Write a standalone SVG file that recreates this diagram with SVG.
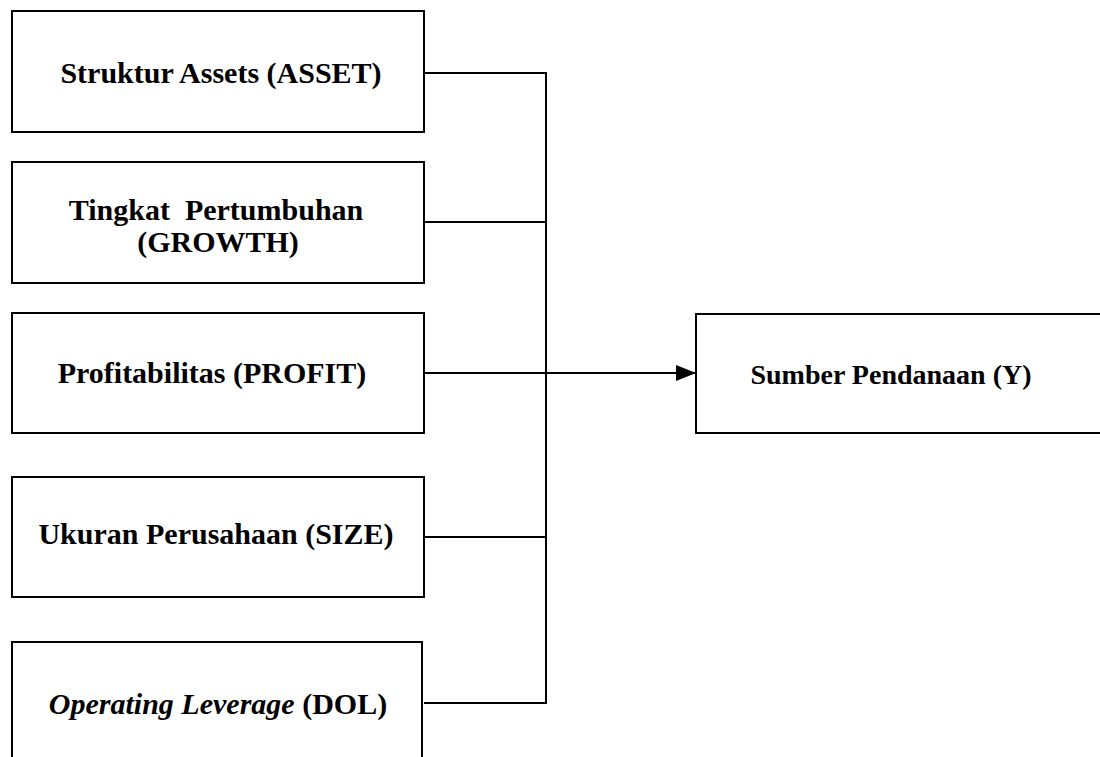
<svg xmlns="http://www.w3.org/2000/svg" width="1100" height="757" viewBox="0 0 1100 757">
<style>
.box{fill:#fff;stroke:#000;stroke-width:2}
.t{font-family:"Liberation Serif","Times New Roman",serif;font-weight:bold;font-size:30px;fill:#000;text-anchor:middle;white-space:pre}
.c{fill:none;stroke:#000;stroke-width:2}
</style>
<defs>
<marker id="arr" viewBox="0 0 20 16" refX="20" refY="8" markerWidth="20" markerHeight="16" markerUnits="userSpaceOnUse" orient="auto">
<path d="M0,0 L20,8 L0,16 Z" fill="#000"/>
</marker>
</defs>
<rect width="1100" height="757" fill="#fff"/>
<g id="connectors">
<path class="c" d="M424,73 H546 V703 H424"/>
<path class="c" d="M424,222 H546"/>
<path class="c" d="M424,537 H546"/>
<path class="c" d="M424,373 H696" marker-end="url(#arr)"/>
</g>
<g id="asset">
<rect class="box" x="12" y="11" width="412" height="121"/>
<text class="t" x="221" y="83">Struktur Assets (ASSET)</text>
</g>
<g id="growth">
<rect class="box" x="12" y="162" width="412" height="121"/>
<text class="t" x="216" y="220" xml:space="preserve">Tingkat  Pertumbuhan</text>
<text class="t" x="218" y="252">(GROWTH)</text>
</g>
<g id="profit">
<rect class="box" x="12" y="313" width="412" height="120"/>
<text class="t" x="212" y="383">Profitabilitas (PROFIT)</text>
</g>
<g id="size">
<rect class="box" x="12" y="477" width="412" height="120"/>
<text class="t" x="216" y="544">Ukuran Perusahaan (SIZE)</text>
</g>
<g id="dol">
<rect class="box" x="12" y="642" width="410" height="130"/>
<text class="t" x="218" y="714"><tspan font-style="italic">Operating Leverage</tspan> (DOL)</text>
</g>
<g id="y">
<rect class="box" x="696" y="314" width="420" height="119"/>
<text class="t" x="891" y="384" style="font-size:28px">Sumber Pendanaan (Y)</text>
</g>
</svg>
